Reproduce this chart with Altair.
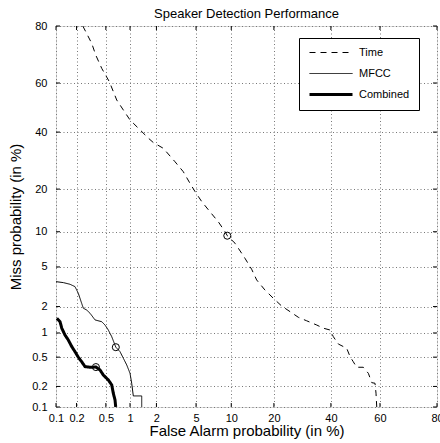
import altair as alt
import pandas as pd
from statistics import NormalDist

# ---- data (percent values) ----
series_names = ["Time", "MFCC", "Combined"]

time_fa = [0.245, 0.325, 0.368, 0.442, 0.555, 0.688, 0.83, 1.0, 1.31, 1.63, 1.85, 2.37, 3.13, 3.78, 4.39,
           4.89, 5.63, 6.67, 7.86, 8.92, 9.3, 10.7, 12.7, 14.2, 15.4, 17.5, 19.85, 22.3, 24.98, 27.8,
           30.7, 34.5, 37.0, 39.65, 40.97, 42.98, 46.4, 47.8, 49.1, 50.5, 53.2, 55.3, 56.7, 58.0, 58.4, 58.7]
time_miss = [80.0, 74.6, 70.6, 65.7, 60.5, 53.1, 49.0, 44.9, 40.9, 37.6, 35.9, 33.7, 28.8, 25.4, 21.7,
             19.3, 16.6, 14.1, 11.9, 10.0, 9.3, 8.07, 6.0, 4.76, 3.76, 2.99, 2.45, 2.03, 1.76, 1.52,
             1.39, 1.24, 1.14, 1.085, 0.903, 0.734, 0.649, 0.507, 0.436, 0.368, 0.368, 0.305, 0.226, 0.222, 0.16, 0.1]

mfcc_fa = [0.1, 0.129, 0.161, 0.19, 0.212, 0.236, 0.249, 0.278, 0.308, 0.36, 0.442, 0.488, 0.538, 0.595,
           0.67, 0.756, 0.83, 0.913, 1.0, 1.047, 1.094, 1.37, 1.37]
mfcc_miss = [3.62, 3.54, 3.41, 3.23, 2.76, 2.17, 1.92, 1.83, 1.69, 1.42, 1.355, 1.24, 1.085, 0.903,
             0.67, 0.588, 0.484, 0.395, 0.305, 0.222, 0.146, 0.146, 0.1]

comb_fa = [0.103, 0.115, 0.122, 0.136, 0.152, 0.171, 0.19, 0.212, 0.236, 0.263, 0.308, 0.37, 0.42, 0.463,
           0.538, 0.595, 0.623, 0.655, 0.668]
comb_miss = [1.48, 1.355, 1.14, 0.946, 0.823, 0.68, 0.588, 0.498, 0.436, 0.375, 0.368, 0.37, 0.338, 0.289,
             0.247, 0.21, 0.16, 0.127, 0.1]

eer_fa = [9.3, 0.67, 0.37]
eer_miss = [9.3, 0.67, 0.37]

tick_values = [0.1, 0.2, 0.5, 1, 2, 5, 10, 20, 40, 60, 80]
tick_labels = ["0.1", "0.2", "0.5", "1", "2", "5", "10", "20", "40", "60", "80"]

# ---- normal-deviate (DET) transform ----
nd = NormalDist()


def probit(p):
    return nd.inv_cdf(p / 100.0)


rows = []
for name, fa, miss in [("Time", time_fa, time_miss), ("MFCC", mfcc_fa, mfcc_miss), ("Combined", comb_fa, comb_miss)]:
    for i, (a, b) in enumerate(zip(fa, miss)):
        rows.append({"series": name, "order": i, "fa": a, "miss": b, "zx": probit(a), "zy": probit(b)})
df = pd.DataFrame(rows)
eer_df = pd.DataFrame({"fa": eer_fa, "miss": eer_miss,
                       "zx": [probit(v) for v in eer_fa], "zy": [probit(v) for v in eer_miss]})

tick_z = [probit(v) for v in tick_values]
ticks_df = pd.DataFrame({"z": tick_z})

# label expression: map deviate back to label
expr = "'" + tick_labels[-1] + "'"
for k in range(len(tick_z) - 2, -1, -1):
    mid = (tick_z[k] + tick_z[k + 1]) / 2
    expr = f"datum.value < {mid:.4f} ? '{tick_labels[k]}' : ({expr})"

dom = [probit(0.1), probit(80)]
FONT = "Liberation Sans"
W = 381
H = 381
TL = 4  # inward tick length

axis_common = dict(values=tick_z, tickCount=40, labelExpr=expr, grid=True, gridDash=[1, 2.5],
                   gridColor="#777777", gridWidth=1, ticks=False, tickSize=0, domain=False, labelFont=FONT,
                   labelFontSize=11, labelColor="black", titleFont=FONT, titleFontSize=15,
                   titleFontWeight="normal", titleColor="black", labelOverlap=False, labelFlush=False)

xaxis = alt.Axis(title="False Alarm probability (in %)", labelPadding=5, titlePadding=0, **axis_common)
yaxis = alt.Axis(title="Miss probability (in %)", labelPadding=9, titlePadding=8, **axis_common)

xs = alt.Scale(domain=dom, nice=False, zero=False)
ys = alt.Scale(domain=dom, nice=False, zero=False)

leg = alt.Legend(title=None, orient="none", legendX=243, legendY=12, symbolType="M-1,0H7.6",
                 symbolSize=100, symbolStrokeColor="black", labelFont=FONT, labelFontSize=11,
                 labelColor="black", labelOffset=38, padding=9, rowPadding=9, strokeColor="black",
                 fillColor="white")

lines = alt.Chart(df).mark_line(clip=True, color="black").encode(
    x=alt.X("zx:Q", scale=xs, axis=xaxis),
    y=alt.Y("zy:Q", scale=ys, axis=yaxis),
    order="order:Q",
    strokeDash=alt.StrokeDash("series:N", scale=alt.Scale(domain=series_names, range=[[6, 5], [1, 0], [1, 0]]),
                              legend=leg),
    strokeWidth=alt.StrokeWidth("series:N", scale=alt.Scale(type="ordinal", domain=series_names,
                                                            range=[1, 1, 3]), legend=leg),
)

eer = alt.Chart(eer_df).mark_point(shape="circle", filled=False, color="black", size=50, strokeWidth=1,
                                   opacity=1).encode(
    x=alt.X("zx:Q", scale=xs),
    y=alt.Y("zy:Q", scale=ys),
)

# inward tick marks on all four sides
tick_base = alt.Chart(ticks_df).mark_rule(color="black", strokeWidth=1)
t_bottom = tick_base.encode(x=alt.X("z:Q", scale=xs), y=alt.value(H), y2=alt.value(H - TL))
t_top = tick_base.encode(x=alt.X("z:Q", scale=xs), y=alt.value(0), y2=alt.value(TL))
t_left = tick_base.encode(y=alt.Y("z:Q", scale=ys), x=alt.value(0), x2=alt.value(TL))
t_right = tick_base.encode(y=alt.Y("z:Q", scale=ys), x=alt.value(W), x2=alt.value(W - TL))

chart = alt.layer(lines, eer, t_bottom, t_top, t_left, t_right).properties(
    width=W, height=H,
    title=alt.TitleParams("Speaker Detection Performance", font=FONT, fontSize=13, fontWeight="normal",
                          color="black", offset=-1),
    autosize=alt.AutoSizeParams(type="none"),
    padding={"left": 56, "top": 26, "right": 3, "bottom": 36},
).configure_view(stroke="black", strokeWidth=1.5).configure(background="white")

chart.save("out.html", embed_options={"renderer": "svg", "actions": False})
